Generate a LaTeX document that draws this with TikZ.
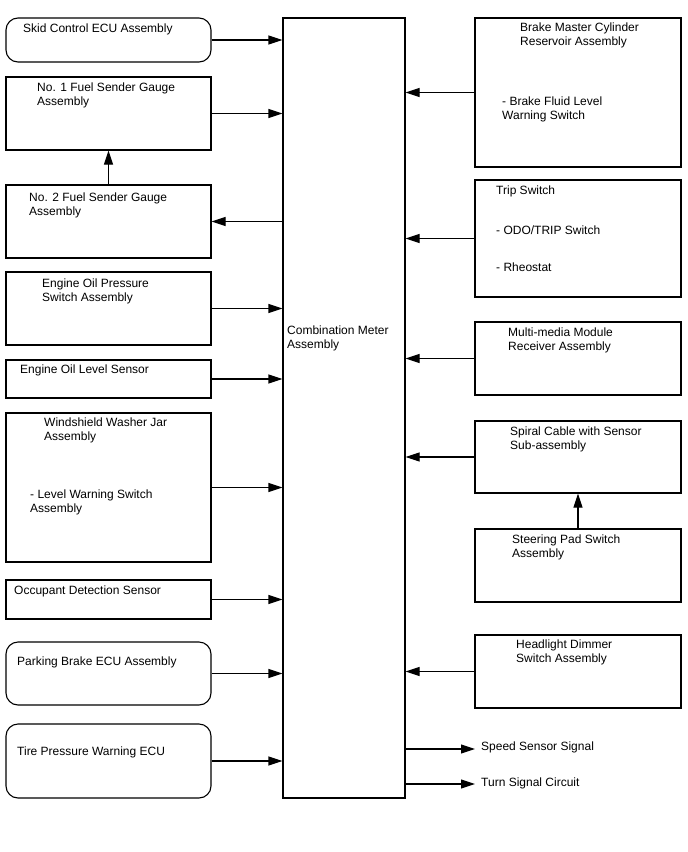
\documentclass[tikz,border=0pt]{standalone}
\usepackage{fontspec}
\setmainfont{Liberation Sans}
\usepackage{tikz}
\usetikzlibrary{arrows.meta}

\begin{document}
\begin{tikzpicture}[x=1pt,y=-1pt,
  box/.style={rectangle,draw=black,line width=1.1pt,minimum width=205pt,inner sep=0pt},
  ecu/.style={box,rounded corners=12pt},
  rbox/.style={box,minimum width=206pt},
  txt/.style={anchor=north west,inner sep=0pt,align=left,font=\fontsize{12}{14}\selectfont},
  link/.style={draw=black,line width=1.1pt,-{Triangle[length=14pt,width=9pt]}}
]
\path[fill=white] (0,0) rectangle (688,852);
% central unit
\node[box,minimum width=122pt,minimum height=780pt] (meter) at (344,408) {};
\node[txt] (metertxt) at (287,325.5) {Combination Meter\\Assembly};
% left column
\node[ecu,minimum height=44pt] (skid) at (108.5,40) {};
\node[box,minimum height=73pt] (fuel1) at (108.5,113.5) {};
\node[box,minimum height=73pt] (fuel2) at (108.5,221.5) {};
\node[box,minimum height=73pt] (oilp) at (108.5,308.5) {};
\node[box,minimum height=38pt] (oill) at (108.5,379) {};
\node[box,minimum height=149pt] (washer) at (108.5,487.5) {};
\node[box,minimum height=39pt] (occ) at (108.5,599.5) {};
\node[ecu,minimum height=63pt] (park) at (108.5,673.5) {};
\node[ecu,minimum height=74pt] (tire) at (108.5,761) {};
\node[txt] (skidtxt) at (23,23.5) {Skid Control ECU Assembly};
\node[txt] (fuel1txt) at (37,82.5) {No. 1 Fuel Sender Gauge\\Assembly};
\node[txt] (fuel2txt) at (29,192.5) {No. 2 Fuel Sender Gauge\\Assembly};
\node[txt] (oilptxt) at (42,278.5) {Engine Oil Pressure\\Switch Assembly};
\node[txt] (oilltxt) at (20,364.5) {Engine Oil Level Sensor};
\node[txt] (washertxt) at (44,417.5) {Windshield Washer Jar\\Assembly};
\node[txt] (washersub) at (30,489.5) {- Level Warning Switch\\Assembly};
\node[txt] (occtxt) at (14,585.5) {Occupant Detection Sensor};
\node[txt] (parktxt) at (17,656.5) {Parking Brake ECU Assembly};
\node[txt] (tiretxt) at (17,746.5) {Tire Pressure Warning ECU};
\draw[link] (skid) -- (skid -| meter.west); \draw[link] (fuel1) -- (fuel1 -| meter.west);
\draw[link] (meter.west |- fuel2) -- (fuel2); \draw[link] (fuel2) -- (fuel1);
\draw[link] (oilp) -- (oilp -| meter.west); \draw[link] (oill) -- (oill -| meter.west);
\draw[link] (washer) -- (washer -| meter.west); \draw[link] (occ) -- (occ -| meter.west);
\draw[link] (park) -- (park -| meter.west); \draw[link] (tire) -- (tire -| meter.west);
% right column
\node[rbox,minimum height=149pt] (brake) at (578,92.5) {};
\node[rbox,minimum height=117pt] (trip) at (578,238.5) {};
\node[rbox,minimum height=73pt] (media) at (578,358.5) {};
\node[rbox,minimum height=72pt] (spiral) at (578,457) {};
\node[rbox,minimum height=73pt] (steer) at (578,565.5) {};
\node[rbox,minimum height=73pt] (head) at (578,671.5) {};
\node[txt] (braketxt) at (520,23) {Brake Master Cylinder\\Reservoir Assembly};
\node[txt] (brakesub) at (502,96.5) {- Brake Fluid Level\\Warning Switch};
\node[txt] (triptxt) at (496,185.5) {Trip Switch};
\node[txt] (tripodo) at (496,225.5) {- ODO/TRIP Switch};
\node[txt] (triprheo) at (496,263) {- Rheostat};
\node[txt] (mediatxt) at (508,327.5) {Multi-media Module\\Receiver Assembly};
\node[txt] (spiraltxt) at (510,426.5) {Spiral Cable with Sensor\\Sub-assembly};
\node[txt] (steertxt) at (512,534.5) {Steering Pad Switch\\Assembly};
\node[txt] (headtxt) at (516,639.5) {Headlight Dimmer\\Switch Assembly};
\draw[link] (brake) -- (brake -| meter.east); \draw[link] (trip) -- (trip -| meter.east);
\draw[link] (media) -- (media -| meter.east); \draw[link] (spiral) -- (spiral -| meter.east);
\draw[link] (steer) -- (spiral); \draw[link] (head) -- (head -| meter.east);
% outputs
\coordinate (speedtip) at (475,749);
\coordinate (turntip) at (475,784);
\node[txt] (speed) at (481,742) {Speed Sensor Signal};
\node[txt] (turn) at (481,777.5) {Turn Signal Circuit};
\draw[link] (meter.east |- speedtip) -- (speedtip); \draw[link] (meter.east |- turntip) -- (turntip);
\end{tikzpicture}
\end{document}
